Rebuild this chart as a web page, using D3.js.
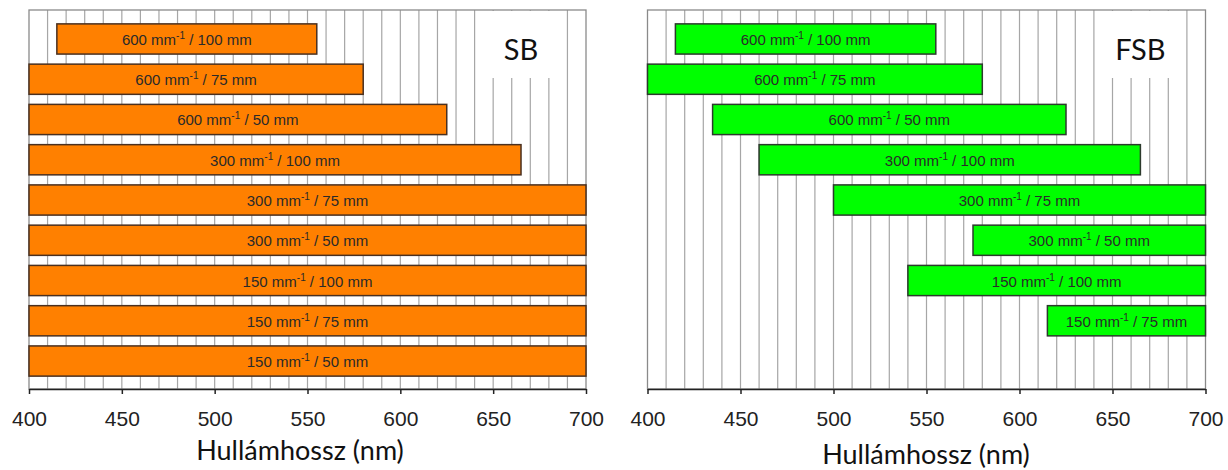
<!DOCTYPE html>
<html>
<head>
<meta charset="utf-8">
<script src="https://cdn.jsdelivr.net/npm/d3@7"></script>
<style>
  html, body { margin: 0; padding: 0; background: #fff; }
  svg { display: block; }
</style>
</head>
<body>
<svg id="chart" width="1228" height="470"></svg>
<script>
// Grating / focal length configurations (row order top to bottom)
const gratingDensity = [600, 600, 600, 300, 300, 300, 150, 150, 150];
const focalLength    = [100, 75, 50, 100, 75, 50, 100, 75, 50];

// Usable wavelength ranges (nm) for each configuration
const sbStart  = [415, 400, 400, 400, 400, 400, 400, 400, 400];
const sbEnd    = [555, 580, 625, 665, 700, 700, 700, 700, 700];
const fsbStart = [415, 400, 435, 460, 500, 575, 540, 615];
const fsbEnd   = [555, 580, 625, 665, 700, 700, 700, 700];

const xTicks = [400, 450, 500, 550, 600, 650, 700];
const xDomain = [400, 700];
const axisTitle = "Hullámhossz (nm)";

const svg = d3.select("#chart");
const rows = gratingDensity.map((g, i) => i);

const y = d3.scaleBand()
  .domain(rows)
  .range([11, 389])
  .paddingInner(0.25)
  .paddingOuter(0.32);

function drawPanel(opts) {
  const x = d3.scaleLinear().domain(xDomain).range(opts.xRange);
  const top = 10, bottom = 389;
  const g = svg.append("g");

  // vertical grid every 10 nm
  g.append("g").selectAll("line")
    .data(d3.range(410, 700, 10))
    .join("line")
    .attr("x1", d => x(d)).attr("x2", d => x(d))
    .attr("y1", top).attr("y2", bottom)
    .attr("stroke", "#a6a6a6").attr("stroke-width", 1.2);

  // frame
  g.append("rect")
    .attr("x", x(400)).attr("y", top)
    .attr("width", x(700) - x(400)).attr("height", bottom - top)
    .attr("fill", "none").attr("stroke", "#8a8a8a").attr("stroke-width", 1.3);

  // label box in the corner
  g.append("rect")
    .attr("x", x(643)).attr("y", top + 1)
    .attr("width", x(688) - x(643)).attr("height", 67)
    .attr("fill", "#fff");
  g.append("text")
    .attr("x", x(665)).attr("y", 60)
    .attr("text-anchor", "middle")
    .attr("font-family", "Lato, 'Open Sans', sans-serif")
    .attr("font-size", 29)
    .attr("fill", "#111")
    .text(opts.name);

  const data = opts.start.map((s, i) => ({ i, s, e: opts.end[i] }));

  g.append("g").selectAll("rect")
    .data(data)
    .join("rect")
    .attr("x", d => x(d.s))
    .attr("y", d => y(d.i))
    .attr("width", d => x(d.e) - x(d.s))
    .attr("height", y.bandwidth())
    .attr("fill", opts.fill)
    .attr("stroke", opts.stroke)
    .attr("stroke-width", 1.5);

  const labels = g.append("g").selectAll("text")
    .data(data)
    .join("text")
    .attr("x", d => (x(d.s) + x(d.e)) / 2)
    .attr("y", d => y(d.i) + y.bandwidth() / 2 + 6)
    .attr("text-anchor", "middle")
    .attr("font-family", "'Liberation Sans', Arial, sans-serif")
    .attr("font-size", 15)
    .attr("fill", "#2a2a2a");
  labels.append("tspan").text(d => `${gratingDensity[d.i]} mm`);
  labels.append("tspan").attr("font-size", 10).attr("dy", -6).text("-1");
  labels.append("tspan").attr("dy", 6).text(d => ` / ${focalLength[d.i]} mm`);

  // x axis
  const ax = g.append("g")
    .attr("transform", `translate(0,${bottom})`)
    .call(d3.axisBottom(x).tickValues(xTicks).tickSize(5).tickSizeOuter(0).tickPadding(17));
  ax.select(".domain").attr("stroke", "#222").attr("stroke-width", 1.5);
  ax.selectAll(".tick line").attr("stroke", "#222").attr("stroke-width", 1.5);
  ax.selectAll(".tick text")
    .attr("font-family", "'Liberation Sans', Arial, sans-serif")
    .attr("font-size", 21)
    .attr("fill", "#222");

  svg.append("text")
    .attr("x", opts.titleX).attr("y", opts.titleY)
    .attr("text-anchor", "middle")
    .attr("font-family", "Lato, 'Open Sans', sans-serif")
    .attr("font-size", 27)
    .attr("fill", "#111")
    .text(axisTitle);
}

drawPanel({
  name: "SB", xRange: [29, 586], start: sbStart, end: sbEnd,
  fill: "#ff8000", stroke: "#4a3020", titleX: 300, titleY: 460
});
drawPanel({
  name: "FSB", xRange: [647.5, 1205.5], start: fsbStart, end: fsbEnd,
  fill: "#00ff00", stroke: "#2c3a2c", titleX: 926, titleY: 464
});
</script>
</body>
</html>
